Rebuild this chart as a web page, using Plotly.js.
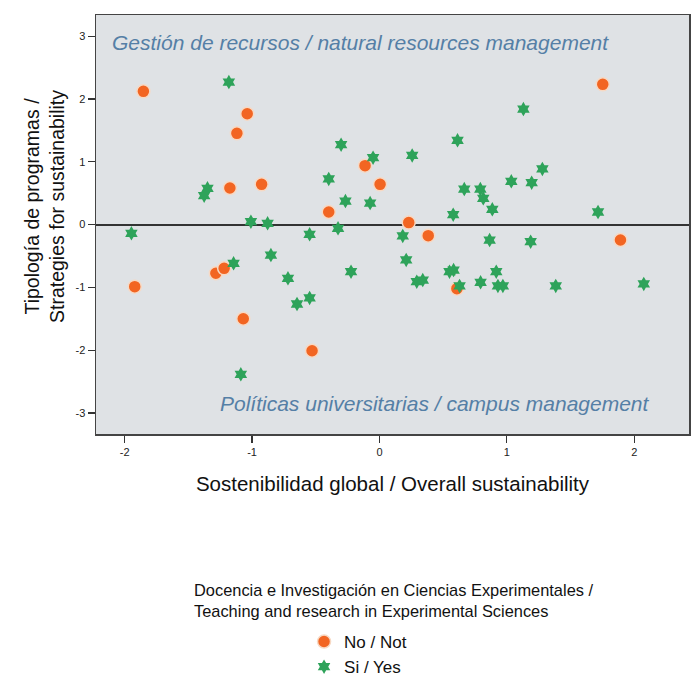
<!DOCTYPE html>
<html>
<head>
<meta charset="utf-8">
<script src="https://cdn.plot.ly/plotly-3.0.1.min.js"></script>
<style>html,body{margin:0;padding:0;background:#fff;}#chart{width:691px;height:682px;}</style>
</head>
<body>
<div id="chart"></div>
<script>
// No / Not (orange circles)
const noX = [-1.853, -1.038, -1.119, -0.113, 0.005, -1.174, -0.925, -0.398, 1.753, 0.230, -1.921, -1.284, -1.219, -1.069, -0.529, 0.383, 1.892, 0.608];
const noY = [2.120, 1.764, 1.452, 0.937, 0.640, 0.581, 0.640, 0.199, 2.232, 0.030, -0.990, -0.777, -0.698, -1.500, -2.010, -0.178, -0.247, -1.022];

// Si / Yes (green stars)
const siX = [-1.182, -0.301, -0.050, -0.398, -1.350, -1.376, -0.267, -0.073, -1.009, -0.878,
             1.130, 0.613, 0.257, 1.279, 1.035, 1.195, 0.666, 0.792, 0.815, 0.886, 0.579, 1.716,
             -1.947, -0.548, -0.325, -1.145, -0.852, -0.718, -0.647, -0.548, -0.223, -1.088,
             0.183, 0.865, 1.187, 0.210, 0.550, 0.582, 0.917, 0.293, 0.340, 0.629, 0.794, 0.930, 0.969, 1.384, 2.075];
const siY = [2.269, 1.271, 1.064, 0.725, 0.576, 0.459, 0.374, 0.342, 0.045, 0.019,
             1.839, 1.340, 1.100, 0.884, 0.688, 0.666, 0.565, 0.565, 0.417, 0.242, 0.156, 0.199,
             -0.140, -0.156, -0.060, -0.618, -0.486, -0.857, -1.266, -1.170, -0.751, -2.385,
             -0.183, -0.247, -0.274, -0.565, -0.751, -0.725, -0.751, -0.911, -0.884, -0.979, -0.920, -0.979, -0.979, -0.979, -0.947];

const xTicks = [-2, -1, 0, 1, 2];
const yTicks = [-3, -2, -1, 0, 1, 2, 3];

const topLabel = "Gestión de recursos / natural resources management";
const bottomLabel = "Políticas universitarias / campus management";
const xTitle = "Sostenibilidad global / Overall sustainability";
const yTitle = "Tipología de programas /<br>Strategies for sustainability";
const groupTitle = "Docencia e Investigación en Ciencias Experimentales /<br>Teaching and research in Experimental Sciences";
const seriesNames = ["No / Not", "Si / Yes"];

const orange = "#f26522";
const green = "#2ea35a";
const FONT = "Arial, Liberation Sans, sans-serif";

const traces = [
  {
    x: noX, y: noY, type: "scatter", mode: "markers", name: seriesNames[0],
    marker: {symbol: "circle", size: 13, color: orange, line: {color: "#f7d9c4", width: 1.5}}
  },
  {
    x: siX, y: siY, type: "scatter", mode: "markers", name: seriesNames[1],
    marker: {symbol: "hexagram", size: 11, color: green, line: {width: 0}}
  }
];

const axisFont = {family: FONT, size: 11, color: "#222"};

const layout = {
  width: 691, height: 682,
  margin: {l: 96, r: 2, t: 15, b: 248, autoexpand: false},
  paper_bgcolor: "#ffffff",
  plot_bgcolor: "#dfe2e5",
  showlegend: true,
  legend: {
    xref: "container", yref: "container",
    x: 0.44, y: 1 - 624 / 682, xanchor: "left", yanchor: "top",
    font: {family: FONT, size: 17, color: "#111"},
    bgcolor: "rgba(0,0,0,0)", tracegroupgap: 0
  },
  xaxis: {
    range: [-2.225, 2.43],
    tickvals: xTicks, ticktext: xTicks.map(String),
    ticks: "outside", ticklen: 7, tickwidth: 1.2, tickcolor: "#333",
    showgrid: false, zeroline: false,
    showline: true, linecolor: "#444", linewidth: 1.5, mirror: true,
    tickfont: axisFont,
    title: {text: xTitle, font: {family: FONT, size: 20.5, color: "#111"}, standoff: 20}
  },
  yaxis: {
    range: [-3.336, 3.336],
    tickvals: yTicks, ticktext: yTicks.map(String),
    ticks: "outside", ticklen: 7, tickwidth: 1.2, tickcolor: "#333",
    showgrid: false, zeroline: true, zerolinecolor: "#333", zerolinewidth: 2,
    showline: true, linecolor: "#444", linewidth: 1.5, mirror: true,
    tickfont: axisFont
  },
  annotations: [
    {xref: "paper", yref: "paper", x: (45 - 96) / 593, y: (434 - 207) / 419, xanchor: "center", yanchor: "middle",
     textangle: -90, showarrow: false, text: yTitle,
     font: {family: FONT, size: 19.5, color: "#111"}},
    {xref: "x", yref: "y", x: -2.115, y: 2.906, xanchor: "left", yanchor: "middle", showarrow: false,
     text: "<i>" + topLabel + "</i>", font: {family: FONT, size: 21, color: "#557fa6"}},
    {xref: "x", yref: "y", x: 2.14, y: -2.858, xanchor: "right", yanchor: "middle", showarrow: false,
     text: "<i>" + bottomLabel + "</i>", font: {family: FONT, size: 21, color: "#557fa6"}},
    {xref: "paper", yref: "paper", x: (192 - 96) / 593, y: (434 - 579) / 419, xanchor: "left", yanchor: "top", align: "left", showarrow: false,
     text: groupTitle, font: {family: FONT, size: 16.4, color: "#111"}}
  ]
};

Plotly.newPlot("chart", traces, layout, {displayModeBar: false, staticPlot: true});
</script>
</body>
</html>
